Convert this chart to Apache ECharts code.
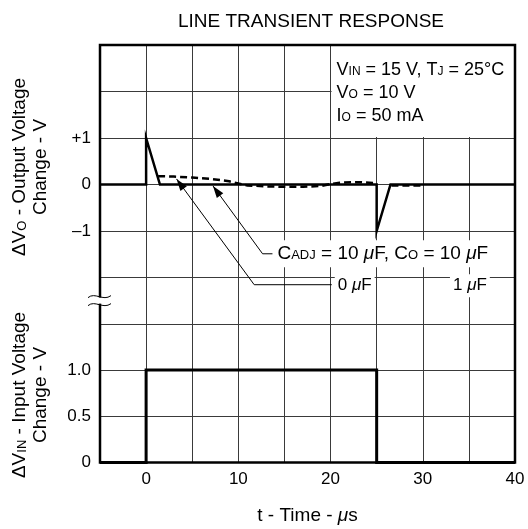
<!DOCTYPE html>
<html>
<head>
<meta charset="utf-8">
<script src="https://cdn.jsdelivr.net/npm/echarts@6/dist/echarts.min.js"></script>
<style>
  html, body { margin: 0; padding: 0; background: #fff; }
  #chart { width: 528px; height: 529px; }
</style>
</head>
<body>
<div id="chart"></div>
<script>
// Tick labels that are printed on each axis
const timeTicks = [0, 10, 20, 30, 40];
const outputTicks = [-1, 0, 1];
const inputTicks = [0, 0.5, 1];

// ΔVO, CADJ = 10 µF, CO = 10 µF (solid trace), time in µs, volts
const solidTime  = [-5, 0, 0, 1.5, 25, 25, 26.5, 40];
const solidDelta = [0, 0, 1, 0, 0, -1, 0, 0];

// ΔVO, CADJ = 0 µF / 1 µF (dashed trace); null marks the break around the step
const dashTime  = [1.3, 3, 5, 7, 9, 10, 11, 13, 15, 17, 19, 20, 21, 23, 25, null, 26.6, 28, 30];
const dashDelta = [0.18, 0.17, 0.15, 0.12, 0.07, 0.02, -0.02, -0.04, -0.05, -0.05, -0.03, 0.01, 0.04, 0.05, 0.03, null, -0.02, -0.02, -0.02];

// ΔVIN input step
const inputTime  = [-5, 0, 0, 25, 25, 40];
const inputDelta = [0, 0, 1, 1, 0, 0];

const FONT = 'Liberation Sans, Arial, Helvetica, sans-serif';
const FS = 17;

const pairs = (xs, ys) => xs.map((x, i) => x === null ? ['-', '-'] : [x, ys[i]]);

function richSet(size, sub) {
  return {
    n: { fontSize: size, fontFamily: FONT, color: '#000', verticalAlign: 'bottom' },
    s: { fontSize: sub, fontFamily: FONT, color: '#000', verticalAlign: 'bottom', padding: [0, 0, 1, 0] },
    i: { fontSize: size, fontFamily: FONT, color: '#000', fontStyle: 'italic', verticalAlign: 'bottom' }
  };
}
const richNote = richSet(18, 12);
const richName = richSet(19, 13);
const richLabel = richSet(19, 13);
const richSmall = richSet(17, 12);

const gridLine = { lineStyle: { color: '#3a3a3a', width: 1 } };

const chart = echarts.init(document.getElementById('chart'), null, { renderer: 'canvas' });

chart.setOption({
  animation: false,
  backgroundColor: '#fff',
  title: {
    text: 'LINE TRANSIENT RESPONSE',
    left: 306,
    top: 7,
    textAlign: 'center',
    textStyle: { fontFamily: FONT, fontSize: 19, fontWeight: 'normal', color: '#000' }
  },
  grid: [
    { left: 100, right: 13, top: 45, height: 232.5 },
    { left: 100, right: 13, top: 277.5, height: 185 }
  ],
  xAxis: [
    {
      type: 'value', gridIndex: 0, min: -5, max: 40, interval: 5,
      axisLine: { show: false }, axisTick: { show: false }, axisLabel: { show: false },
      splitLine: gridLine
    },
    {
      type: 'value', gridIndex: 1, min: -5, max: 40, interval: 5,
      axisLine: { show: false }, axisTick: { show: false },
      axisLabel: {
        margin: 8, fontFamily: FONT, fontSize: FS, color: '#000',
        formatter: v => timeTicks.includes(v) ? String(v) : ''
      },
      splitLine: gridLine,
      name: '{n|t - Time - }{i|μ}{n|s}',
      nameLocation: 'middle',
      nameGap: 44,
      nameTextStyle: { rich: richName }
    }
  ],
  yAxis: [
    {
      type: 'value', gridIndex: 0, min: -2, max: 3, interval: 1,
      axisLine: { show: false }, axisTick: { show: false },
      axisLabel: {
        margin: 9, fontFamily: FONT, fontSize: FS, color: '#000',
        formatter: v => outputTicks.includes(v) ? (v > 0 ? '+' + v : v < 0 ? '\u2013' + Math.abs(v) : '0') : ''
      },
      splitLine: gridLine
    },
    {
      type: 'value', gridIndex: 1, min: 0, max: 2, interval: 0.5,
      axisLine: { show: false }, axisTick: { show: false },
      axisLabel: {
        margin: 9, fontFamily: FONT, fontSize: FS, color: '#000',
        formatter: v => inputTicks.includes(v) ? (v === 0 ? '0' : v.toFixed(1)) : ''
      },
      splitLine: gridLine
    }
  ],
  series: [
    {
      name: 'CADJ = 10 µF', type: 'line', xAxisIndex: 0, yAxisIndex: 0,
      data: pairs(solidTime, solidDelta), symbol: 'none', z: 5,
      lineStyle: { color: '#000', width: 2.5, join: 'miter' }
    },
    {
      name: 'CADJ = 0 / 1 µF', type: 'line', xAxisIndex: 0, yAxisIndex: 0,
      data: pairs(dashTime, dashDelta), symbol: 'none', z: 4, connectNulls: false,
      lineStyle: { color: '#000', width: 2.5, type: [7, 4] }
    },
    {
      name: 'ΔVIN', type: 'line', xAxisIndex: 1, yAxisIndex: 1,
      data: pairs(inputTime, inputDelta), symbol: 'none', z: 5, clip: false,
      lineStyle: { color: '#000', width: 3, join: 'miter' }
    }
  ]
});

// Overlays placed from the axes' own coordinate conversion
const px = (g, x, y) => chart.convertToPixel({ gridIndex: g }, [x, y]);

function textEl(str, x, y, align, richStyle, opts, rotation) {
  return {
    type: 'text', x: x, y: y, z: 11, rotation: rotation || 0,
    style: Object.assign({
      text: str, rich: richStyle, align: align, verticalAlign: 'middle',
      fontFamily: FONT, fontSize: FS, fill: '#000'
    }, opts || {})
  };
}

function leader(points, g) {
  const pts = points.map(p => px(g, p[0], p[1]));
  const tip = pts[0], from = pts[1];
  const dx = tip[0] - from[0], dy = tip[1] - from[1];
  const len = Math.hypot(dx, dy);
  const ux = dx / len, uy = dy / len;
  const L = 12, W = 4;
  const bx = tip[0] - ux * L, by = tip[1] - uy * L;
  return [
    { type: 'polyline', z: 10, shape: { points: pts }, style: { stroke: '#000', lineWidth: 1, fill: null } },
    { type: 'polygon', z: 10, shape: { points: [tip, [bx - uy * W, by + ux * W], [bx + uy * W, by - ux * W]] }, style: { fill: '#000' } }
  ];
}

const noteA = px(0, 20, 3), noteB = px(0, 40, 1);
const frameA = px(0, -5, 3), frameB = px(1, 40, 0);
const brk = px(1, -5, 1.75);
const ROT = Math.PI / 2;

const graphics = [
  // clear area behind the test conditions
  { type: 'rect', z: 9, shape: { x: noteA[0] + 1, y: noteA[1], width: noteB[0] - noteA[0] - 1, height: noteB[1] - noteA[1] - 1 }, style: { fill: '#fff' } },
  textEl('{n|V}{s|IN}{n| = 15 V, T}{s|J}{n| = 25°C}', noteA[0] + 6, noteA[1] + 25, 'left', richNote),
  textEl('{n|V}{s|O}{n| = 10 V}', noteA[0] + 6, noteA[1] + 48, 'left', richNote),
  textEl('{n|I}{s|O}{n| = 50 mA}', noteA[0] + 6, noteA[1] + 71, 'left', richNote),

  // axis titles
  textEl('{n|ΔV}{s|O}{n| - Output Voltage}', 20, 167, 'center', richName, null, ROT),
  textEl('{n|Change - V}', 41, 167, 'center', richName, null, ROT),
  textEl('{n|ΔV}{s|IN}{n| - Input Voltage}', 20, 395, 'center', richName, null, ROT),
  textEl('{n|Change - V}', 41, 395, 'center', richName, null, ROT),

  // leaders to the traces
  ...leader([[7.25, -0.03], [12.63, -1.49], [13.7, -1.49]], 0),
  ...leader([[3.3, 0.12], [11.72, -2.155], [20.13, -2.155]], 0),

  textEl('{n|C}{s|ADJ}{n| = 10 }{i|μ}{n|F, C}{s|O}{n| = 10 }{i|μ}{n|F}', px(0, 13.7, 0)[0] + 2, px(0, 0, -1.49)[1], 'left', richLabel,
    { backgroundColor: '#fff', padding: [4, 3, 4, 3] }),
  textEl('{n|0 }{i|μ}{n|F}', px(0, 20.13, 0)[0] + 3, px(0, 0, -2.155)[1] + 1, 'left', richSmall,
    { backgroundColor: '#fff', padding: [3, 3, 3, 3] }),
  textEl('{n|1 }{i|μ}{n|F}', px(0, 35, 0)[0] + 1, px(0, 0, -2.155)[1] + 1, 'center', richSmall,
    { backgroundColor: '#fff', padding: [3, 3, 3, 3] }),

  // axis break mark on the left edge
  { type: 'rect', z: 13, shape: { x: brk[0] - 4, y: brk[1] - 3, width: 8, height: 6 }, style: { fill: '#fff' } },
  { type: 'bezierCurve', z: 13, shape: { x1: brk[0] - 12, y1: brk[1] - 3, cpx1: brk[0] - 5, cpy1: brk[1] - 9, cpx2: brk[0] + 3, cpy2: brk[1] + 1, x2: brk[0] + 11, y2: brk[1] - 5 }, style: { stroke: '#000', lineWidth: 1, fill: null } },
  { type: 'bezierCurve', z: 13, shape: { x1: brk[0] - 12, y1: brk[1] + 5, cpx1: brk[0] - 5, cpy1: brk[1] - 1, cpx2: brk[0] + 3, cpy2: brk[1] + 9, x2: brk[0] + 11, y2: brk[1] + 3 }, style: { stroke: '#000', lineWidth: 1, fill: null } },

  // plot frame
  { type: 'rect', z: 12, shape: { x: frameA[0], y: frameA[1], width: frameB[0] - frameA[0], height: frameB[1] - frameA[1] }, style: { stroke: '#000', lineWidth: 2.5, fill: null } }
];

chart.setOption({ graphic: graphics });
</script>
</body>
</html>
